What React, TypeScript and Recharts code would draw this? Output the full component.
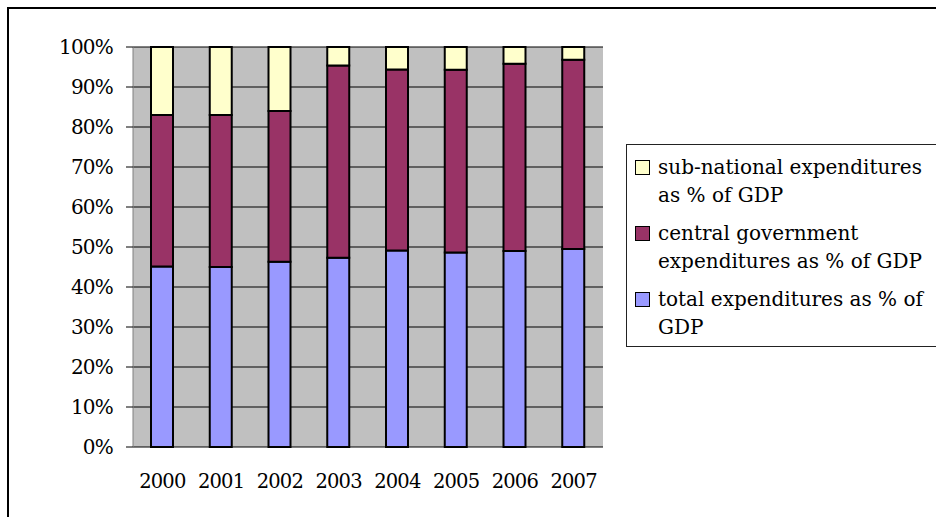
import React from 'react';
import { BarChart, Bar, XAxis, YAxis, CartesianGrid, Legend } from 'recharts';

// Shares per year (percent of the stacked total)
const years = ['2000', '2001', '2002', '2003', '2004', '2005', '2006', '2007'];
const totalShare = [45.1, 45.0, 46.3, 47.3, 49.1, 48.6, 49.0, 49.5];
const centralShare = [37.9, 38.0, 37.7, 48.1, 45.3, 45.7, 46.8, 47.3];
const subNationalShare = [17.0, 17.0, 16.0, 4.6, 5.6, 5.7, 4.2, 3.2];

const percentTicks = [0, 0.1, 0.2, 0.3, 0.4, 0.5, 0.6, 0.7, 0.8, 0.9, 1];
const boundaryTicks = [0, 1, 2, 3, 4, 5, 6, 7, 8];

const SERIES = [
  { key: 'total', name: 'total expenditures as % of GDP', lines: ['total expenditures as % of', 'GDP'], color: '#9999FF' },
  { key: 'central', name: 'central government expenditures as % of GDP', lines: ['central government', 'expenditures as % of GDP'], color: '#993366' },
  { key: 'sub', name: 'sub-national expenditures as % of GDP', lines: ['sub-national expenditures', 'as % of GDP'], color: '#FFFFCC' },
];

const data = years.map((year, i) => ({
  year,
  total: totalShare[i],
  central: centralShare[i],
  sub: subNationalShare[i],
}));

const FONT = 'DejaVu Serif';
const xTickStyle = { fontFamily: FONT, fontSize: 19.5, letterSpacing: -0.8, fill: '#000' };
const yTickStyle = { fontFamily: FONT, fontSize: 20, letterSpacing: -0.8, fill: '#000' };

const LegendBox = () => (
  <div
    style={{
      border: '1px solid #222',
      background: '#fff',
      padding: '9px 0 5px 8px',
      width: 330,
      fontFamily: FONT,
      fontSize: 20,
      lineHeight: '27.5px',
      color: '#000',
      boxSizing: 'border-box',
    }}
  >
    {[...SERIES].reverse().map((s, idx) => (
      <div key={s.key} style={{ display: 'flex', alignItems: 'flex-start', marginTop: idx === 0 ? 0 : 11 }}>
        <div
          style={{
            width: 13,
            height: 13,
            border: '1px solid #000',
            background: s.color,
            marginTop: 6,
            marginRight: 8,
            flex: 'none',
          }}
        />
        <div style={{ whiteSpace: 'nowrap' }}>
          {s.lines.map((ln) => (
            <div key={ln}>{ln}</div>
          ))}
        </div>
      </div>
    ))}
  </div>
);

export default function App() {
  return (
    <div
      style={{
        position: 'fixed',
        left: 0,
        top: 0,
        width: 936,
        height: 517,
        overflow: 'hidden',
        background: '#fff',
        fontFamily: FONT,
      }}
    >
      <div
        style={{
          position: 'absolute',
          left: 7,
          top: 7,
          width: 1100,
          height: 700,
          border: '2px solid #000',
          boxSizing: 'border-box',
        }}
      />
      <div style={{ position: 'absolute', left: 0, top: 0 }}>
        <BarChart
          width={936}
          height={517}
          data={data}
          stackOffset="expand"
          margin={{ top: 47, right: 333, bottom: 40, left: 73 }}
          style={{ fontFamily: FONT }}
        >
          <CartesianGrid vertical={false} stroke="#000" fill="#C0C0C0" fillOpacity={1} />
          {/* boundary tick marks between categories */}
          <XAxis
            xAxisId="grid"
            type="number"
            domain={[0, 8]}
            ticks={boundaryTicks}
            height={0}
            tick={false}
            tickSize={7}
            tickLine={{ stroke: '#808080' }}
            axisLine={{ stroke: '#808080' }}
          />
          <XAxis
            dataKey="year"
            height={30}
            tick={xTickStyle}
            tickLine={false}
            axisLine={false}
            tickSize={7}
            tickMargin={20}
          />
          <XAxis
            xAxisId="top"
            dataKey="year"
            orientation="top"
            height={0}
            tick={false}
            tickLine={false}
            axisLine={{ stroke: '#808080' }}
          />
          <YAxis
            width={60}
            domain={[0, 1]}
            ticks={percentTicks}
            tickFormatter={(v: number) => `${Math.round(v * 100)}%`}
            tick={yTickStyle}
            tickSize={7}
            tickMargin={13}
            tickLine={{ stroke: '#000' }}
            axisLine={{ stroke: '#808080' }}
          />
          <YAxis
            yAxisId="right"
            orientation="right"
            width={0}
            domain={[0, 1]}
            tick={false}
            tickLine={false}
            axisLine={{ stroke: '#808080' }}
          />
          {SERIES.map((s) => (
            <Bar
              key={s.key}
              dataKey={s.key}
              name={s.name}
              stackId="a"
              fill={s.color}
              stroke="#000"
              strokeWidth={2}
              barSize={22}
              isAnimationActive={false}
            />
          ))}
          <Legend
            layout="vertical"
            align="center"
            verticalAlign="middle"
            content={() => <LegendBox />}
            wrapperStyle={{ position: 'absolute', left: 626, top: 144, width: 'auto', height: 'auto' }}
          />
        </BarChart>
      </div>
    </div>
  );
}
